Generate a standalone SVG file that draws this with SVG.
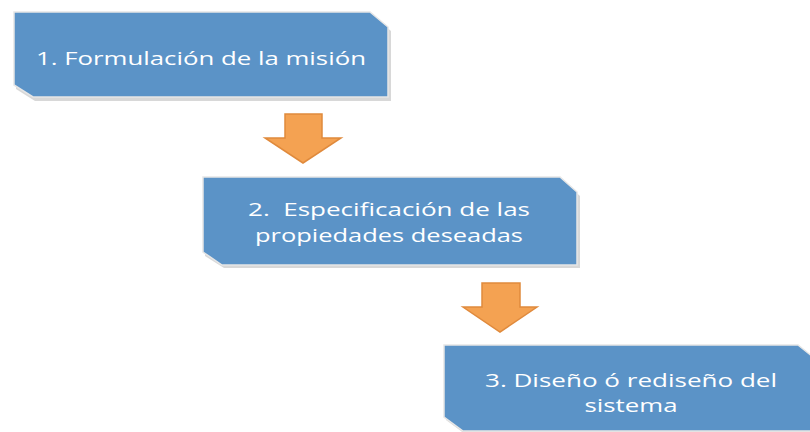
<svg xmlns="http://www.w3.org/2000/svg" width="810" height="432" viewBox="0 0 810 432">
  <defs>
    <style>
      .shadow { fill: #c8c8c8; opacity: 0.7; }
      .box { fill: #5b93c7; stroke: #e6e6e6; stroke-width: 1.5; }
      .label { fill: #ffffff; font-family: "Open Sans", "Liberation Sans", sans-serif; font-size: 18.5px; text-anchor: middle; white-space: pre; }
      .arrow { fill: #f4a252; stroke: #e08a3c; stroke-width: 1.5; stroke-linejoin: miter; }
    </style>
  </defs>
  <rect width="810" height="432" fill="#ffffff"/>
  <g id="node1">
    <polygon class="shadow" points="16,15 372,15 391,31 391,101 35,101 16,89"/>
    <polygon class="box" points="14,12 370,12 388,27 388,97 33,97 14,85"/>
    <text class="label" x="201" y="65" textLength="330" lengthAdjust="spacingAndGlyphs">1. Formulación de la misión</text>
  </g>
  <g id="node2">
    <polygon class="shadow" points="205,180 562,180 580,196 580,268 224,268 205,256"/>
    <polygon class="box" points="203,177 560,177 577,192 577,265 222,265 203,252"/>
    <text class="label" x="389" y="216" textLength="282" lengthAdjust="spacingAndGlyphs">2.  Especificación de las</text>
    <text class="label" x="389" y="241.5" textLength="268" lengthAdjust="spacingAndGlyphs">propiedades deseadas</text>
  </g>
  <g id="node3">
    <polygon class="shadow" points="446,348 800,348 820,364 820,434 465,434 446,420"/>
    <polygon class="box" points="444,345 798,345 818,361 818,431 463,431 444,417"/>
    <text class="label" x="631" y="386.5" textLength="292" lengthAdjust="spacingAndGlyphs">3. Diseño ó rediseño del</text>
    <text class="label" x="631" y="412" textLength="93" lengthAdjust="spacingAndGlyphs">sistema</text>
  </g>
  <g id="connectors">
    <polygon class="arrow" points="285,114 322,114 322,138 341,138 303,163 265,138 285,138"/>
    <polygon class="arrow" points="482,283 520,283 520,307 537,307 500,332 463,307 482,307"/>
  </g>
</svg>
